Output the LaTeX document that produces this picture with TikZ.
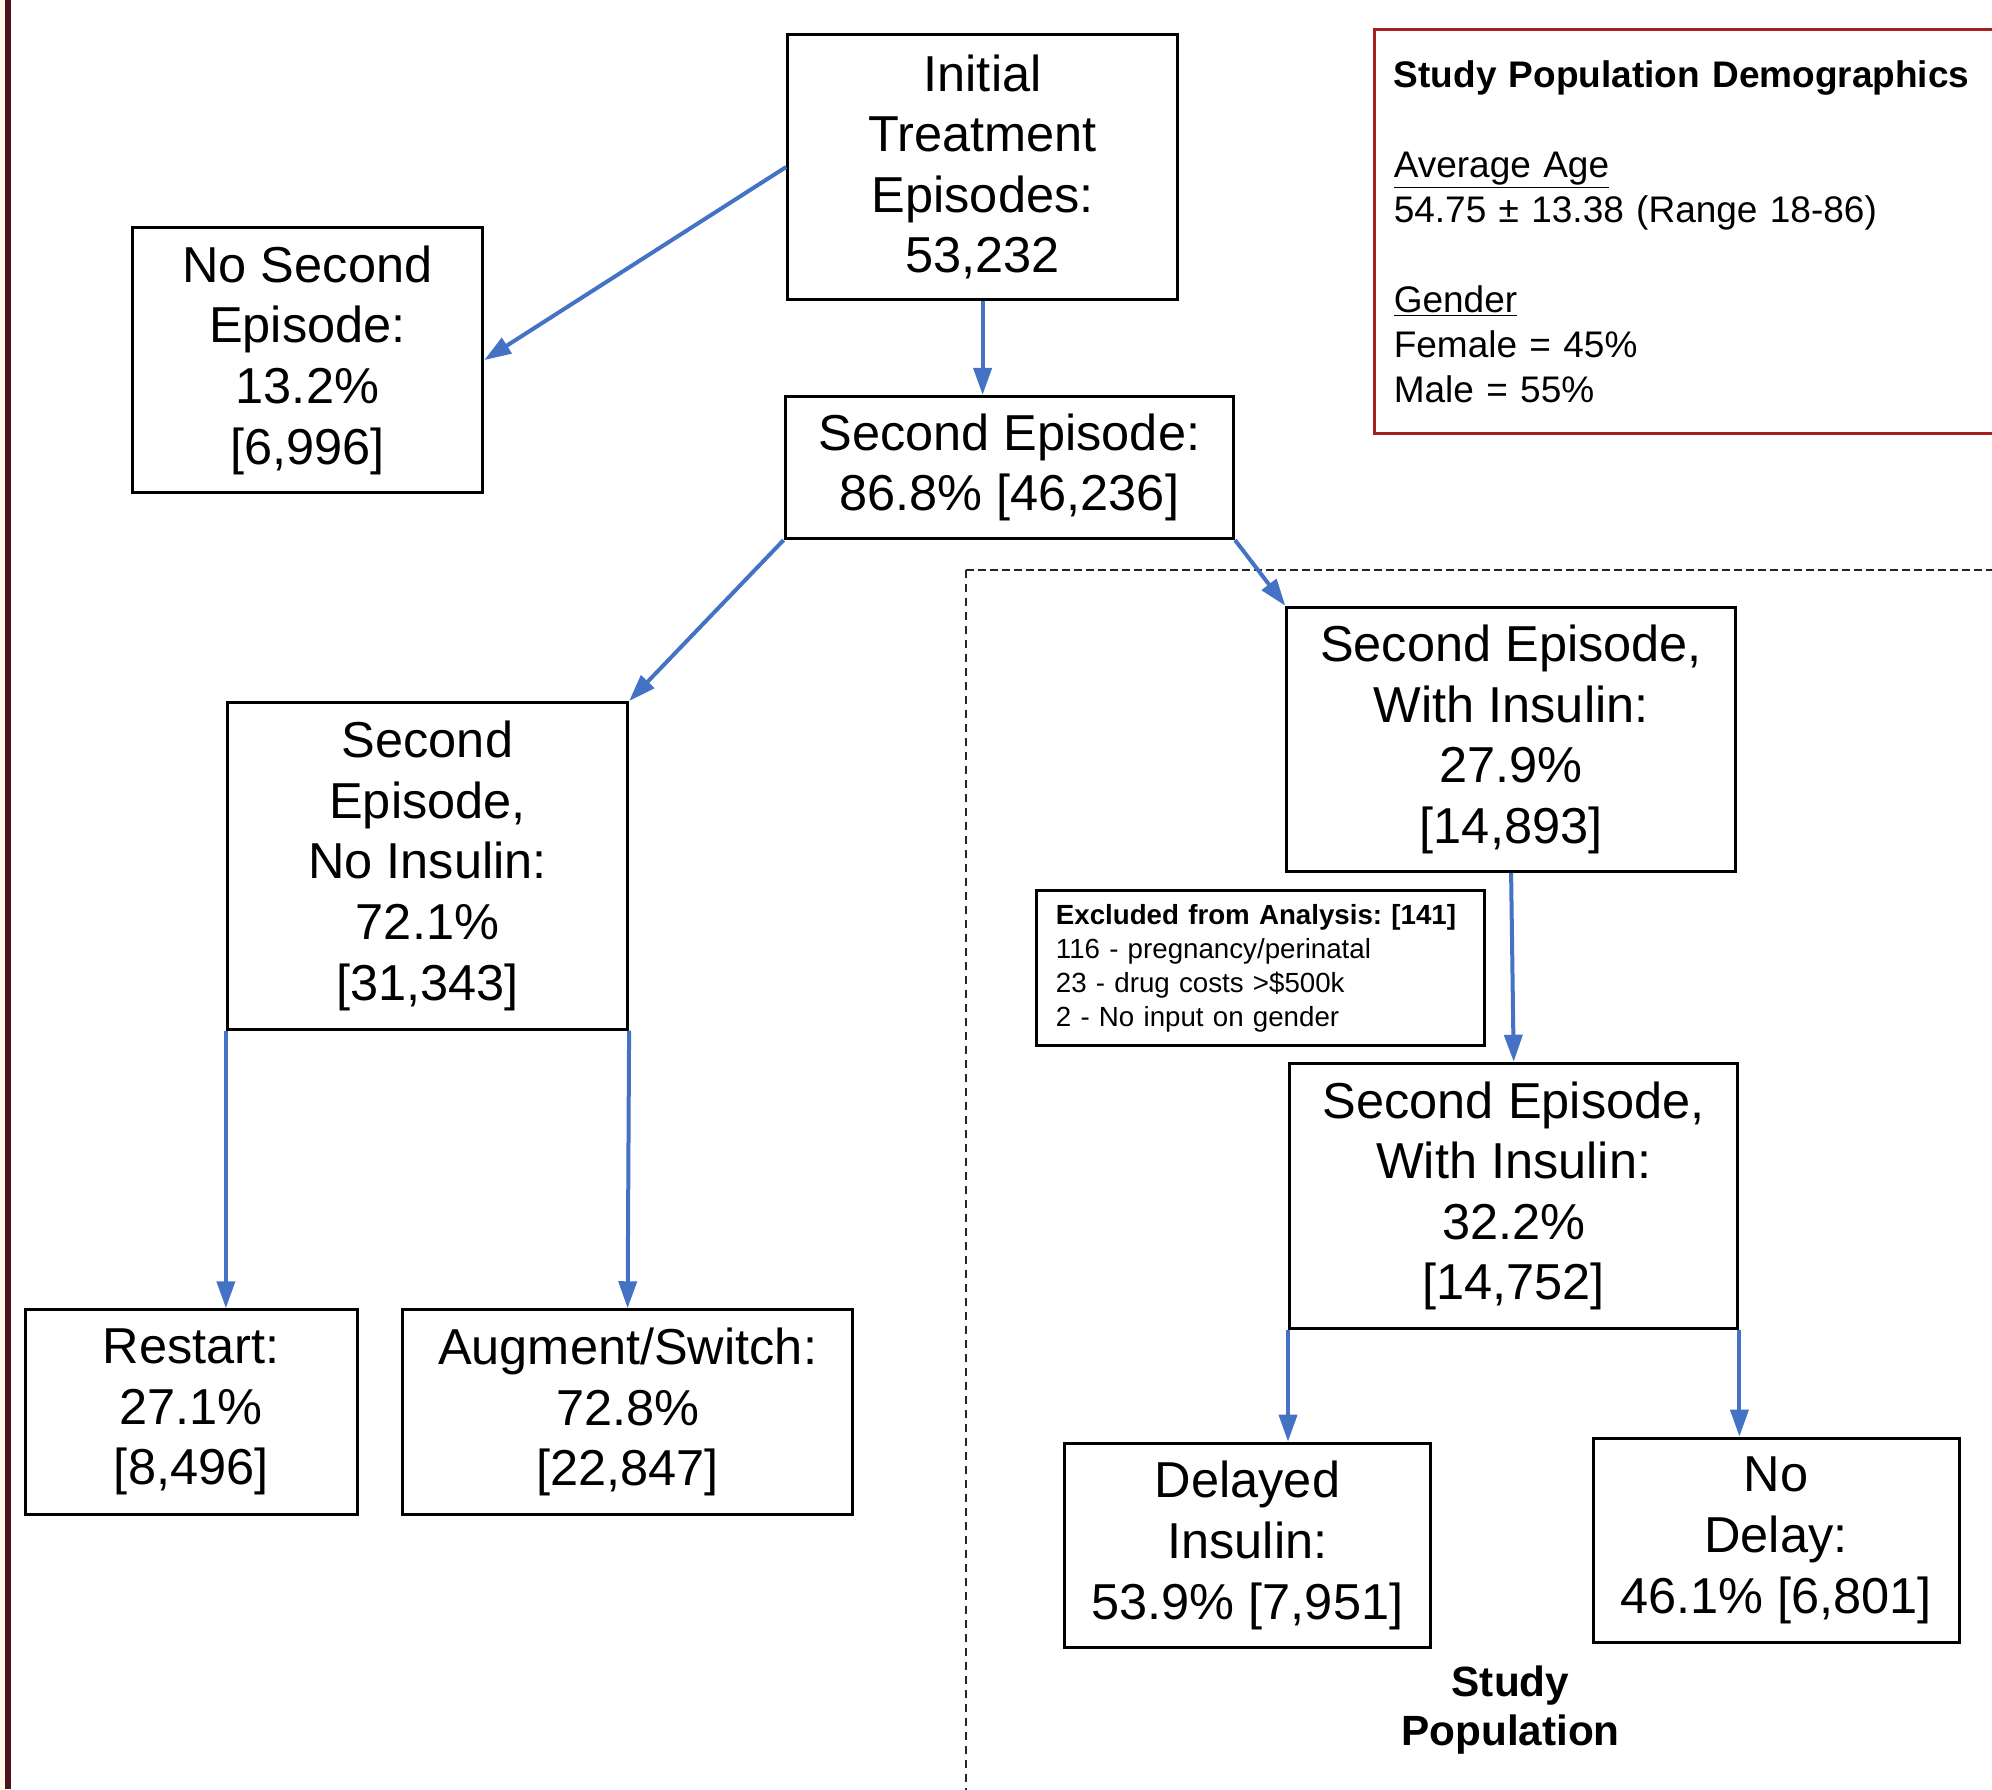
\documentclass[tikz,border=0pt]{standalone}
\usepackage{fontspec}
\setmainfont{Liberation Sans}
\usetikzlibrary{arrows.meta}
\tikzset{>={Triangle[width=9pt,length=13.5pt]}}
\definecolor{arrowblue}{HTML}{4472C4}
\definecolor{demored}{HTML}{A61E22}
\definecolor{sideline}{HTML}{4A1418}
\definecolor{sidecream}{HTML}{FFFBE6}
\frenchspacing

\begin{document}
\begin{tikzpicture}[x=0.5pt, y=-0.5pt,
  stage/.style={draw, line width=1.5pt, align=center, inner sep=0pt, font=\BIG},
  flow/.style={->, draw=arrowblue, fill=arrowblue, line width=2pt},
  studyline/.style={line width=1pt, color=black!85}]

\newcommand\BIG{\fontsize{25.25}{30.3}\selectfont}
\newcommand\DEMO{\fontsize{18.5}{22.5}\selectfont}
\newcommand\SMALLNOTE{\fontsize{13.85}{16.95}\selectfont}

\clip (0,0) rectangle (1992,1789);

%% left margin rule
\fill[sidecream] (0,0) rectangle (5,1789);
\draw[sideline, line width=3pt] (8,0) -- (8,1789);

%% study population frame
\coordinate (studycorner) at (965.5,570.4);
\draw[studyline, dash pattern=on 4pt off 2pt] (studycorner) -- (2000,570.4);
\draw[studyline, dash pattern=on 4pt off 3pt] (studycorner) -- (965.5,1800);

%% demographics
\node[draw=demored, line width=1.5pt, anchor=north west, align=left,
  text width=320pt, inner xsep=9.5pt, minimum height=202pt, font=\DEMO]
  (demo) at (1373.3,27.9)
  {\textbf{Study Population Demographics}\\[22.5pt]
   \underline{Average Age}\\
   54.75 ± 13.38 (Range 18-86)\\[22.5pt]
   \underline{Gender}\\
   Female = 45\%\\
   Male = 55\%};

%% episodes
\node[stage, minimum width=195pt, minimum height=132.75pt] (init) at (982.6,167)
  {Initial\\Treatment\\Episodes:\\53,232};
\node[stage, minimum width=175.3pt, minimum height=132.75pt] (nosec) at (307.4,360.1)
  {No Second\\Episode:\\13.2\%\\{[}6,996{]}};
\node[stage, minimum width=224.25pt, minimum height=71.1pt] (second) at (1009.3,467.5)
  {Second Episode:\\86.8\% [46,236]};

%% no insulin branch
\node[stage, minimum width=200.1pt, minimum height=163.25pt] (noins) at (427.5,865.8)
  {Second\\Episode,\\No Insulin:\\72.1\%\\{[}31,343{]}};
\node[stage, minimum width=165.8pt, minimum height=102.25pt] (restart) at (191.2,1412)
  {Restart:\\27.1\%\\{[}8,496{]}};
\node[stage, minimum width=224.85pt, minimum height=102.25pt] (augment) at (627.6,1412)
  {Augment/Switch:\\72.8\%\\{[}22,847{]}};

%% insulin branch
\node[stage, minimum width=224.25pt, minimum height=132.1pt] (withins) at (1511.1,739.4)
  {Second Episode,\\With Insulin:\\27.9\%\\{[}14,893{]}};
\node[draw, line width=1.5pt, align=left, text width=205pt, inner xsep=9.5pt,
  minimum height=77.5pt, font=\SMALLNOTE] (excl) at (1260.9,968)
  {\textbf{Excluded from Analysis: [141]}\\
   116 - pregnancy/perinatal\\
   23 - drug costs >\$500k\\
   2 - No input on gender};
\node[stage, minimum width=224.2pt, minimum height=132.75pt] (withins2) at (1513.7,1196)
  {Second Episode,\\With Insulin:\\32.2\%\\{[}14,752{]}};
\node[stage, minimum width=182.95pt, minimum height=102.25pt] (delayed) at (1247.5,1545.4)
  {Delayed\\Insulin:\\53.9\% [7,951]};
\node[stage, minimum width=183pt, minimum height=102.25pt] (nodelay) at (1776,1540.3)
  {No\\Delay:\\46.1\% [6,801]};
\node[align=center, font=\bfseries\fontsize{21.15}{24.75}\selectfont] (studylbl) at (1510.5,1710)
  {Study\\Population};

%% connectors
\draw[flow] (init.west) -- (nosec.east);
\draw[flow] (init.south) -- (init.south |- second.north);
\draw[flow] (second.south west) -- (noins.north east);
\draw[flow] (second.south east) -- (withins.north west);
\draw[flow] (withins.south) -- (withins2.north);
\draw[flow] (noins.south west) -- (noins.south west |- restart.north);
\draw[flow] (noins.south east) -- (augment.north);
\draw[flow] (withins2.south west) -- (withins2.south west |- delayed.north);
\draw[flow] (withins2.south east) -- (withins2.south east |- nodelay.north);
\end{tikzpicture}
\end{document}
